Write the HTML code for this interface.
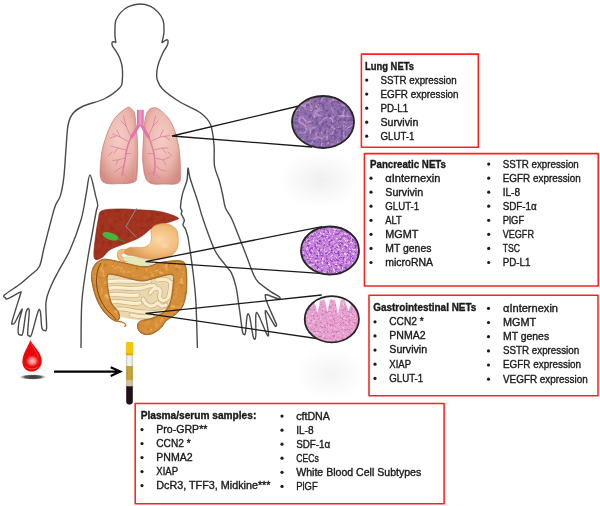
<!DOCTYPE html>
<html><head><meta charset="utf-8"><style>
html,body{margin:0;padding:0;background:#fff;}
body{width:600px;height:506px;overflow:hidden;position:relative;}
svg{position:absolute;left:0;top:0;will-change:transform;}
text{font-family:"Liberation Sans",sans-serif;font-size:10.0px;fill:#1a1a1a;stroke:#1a1a1a;stroke-width:0.35px;}
text.b{font-weight:bold;stroke-width:0.35px;}
</style></head><body>
<svg width="600" height="506" viewBox="0 0 600 506">
<defs>
 <radialGradient id="shadow" cx="50%" cy="50%" r="50%">
  <stop offset="0" stop-color="#000" stop-opacity="0.06"/>
  <stop offset="0.5" stop-color="#000" stop-opacity="0.03"/>
  <stop offset="1" stop-color="#000" stop-opacity="0"/>
 </radialGradient>
 <radialGradient id="lungG" cx="50%" cy="40%" r="65%">
  <stop offset="0" stop-color="#f4cec6"/>
  <stop offset="0.6" stop-color="#ebb6ac"/>
  <stop offset="1" stop-color="#d48c84"/>
 </radialGradient>
 <radialGradient id="stomG" cx="65%" cy="45%" r="60%">
  <stop offset="0" stop-color="#fcd8a4"/>
  <stop offset="0.6" stop-color="#f2bb7c"/>
  <stop offset="1" stop-color="#dc9a58"/>
 </radialGradient>
 <radialGradient id="dropG" cx="40%" cy="62%" r="60%">
  <stop offset="0" stop-color="#ff7a7a"/>
  <stop offset="0.35" stop-color="#f02020"/>
  <stop offset="1" stop-color="#b80000"/>
 </radialGradient>
 <radialGradient id="dropSh" cx="50%" cy="50%" r="50%">
  <stop offset="0" stop-color="#222"/>
  <stop offset="0.55" stop-color="#555"/>
  <stop offset="1" stop-color="#999" stop-opacity="0"/>
 </radialGradient>
 <filter id="nLungDark" x="0" y="0" width="100%" height="100%" color-interpolation-filters="sRGB"><feTurbulence type="fractalNoise" baseFrequency="0.32" numOctaves="2" seed="3"/><feColorMatrix type="matrix" values="0 0 0 0 0.353  0 0 0 0 0.259  0 0 0 0 0.573  5 0 0 0 -2.3"/></filter>

 <filter id="nLungLight" x="0" y="0" width="100%" height="100%" color-interpolation-filters="sRGB"><feTurbulence type="turbulence" baseFrequency="0.09" numOctaves="2" seed="9"/><feColorMatrix type="matrix" values="0 0 0 0 0.831  0 0 0 0 0.667  0 0 0 0 0.831  -6 0 0 0 0.95"/></filter>

 <filter id="nLungPink" x="0" y="0" width="100%" height="100%" color-interpolation-filters="sRGB"><feTurbulence type="fractalNoise" baseFrequency="0.35" numOctaves="2" seed="21"/><feColorMatrix type="matrix" values="0 0 0 0 0.753  0 0 0 0 0.439  0 0 0 0 0.659  5 0 0 0 -3.0"/></filter>

 <filter id="nPanDark" x="0" y="0" width="100%" height="100%" color-interpolation-filters="sRGB"><feTurbulence type="fractalNoise" baseFrequency="0.42" numOctaves="2" seed="7"/><feColorMatrix type="matrix" values="0 0 0 0 0.580  0 0 0 0 0.251  0 0 0 0 0.753  5 0 0 0 -2.45"/></filter>

 <filter id="nPanLight" x="0" y="0" width="100%" height="100%" color-interpolation-filters="sRGB"><feTurbulence type="fractalNoise" baseFrequency="0.45" numOctaves="2" seed="17"/><feColorMatrix type="matrix" values="0 0 0 0 0.949  0 0 0 0 0.839  0 0 0 0 0.949  5 0 0 0 -2.75"/></filter>

 <filter id="nGIDark" x="0" y="0" width="100%" height="100%" color-interpolation-filters="sRGB"><feTurbulence type="fractalNoise" baseFrequency="0.45" numOctaves="2" seed="11"/><feColorMatrix type="matrix" values="0 0 0 0 0.769  0 0 0 0 0.353  0 0 0 0 0.635  5 0 0 0 -2.6"/></filter>

 <filter id="nGILight" x="0" y="0" width="100%" height="100%" color-interpolation-filters="sRGB"><feTurbulence type="fractalNoise" baseFrequency="0.4" numOctaves="2" seed="13"/><feColorMatrix type="matrix" values="0 0 0 0 0.957  0 0 0 0 0.769  0 0 0 0 0.894  5 0 0 0 -2.8"/></filter>

 <filter id="nLiver" x="0" y="0" width="100%" height="100%" color-interpolation-filters="sRGB"><feTurbulence type="fractalNoise" baseFrequency="0.22" numOctaves="2" seed="5"/><feColorMatrix type="matrix" values="0 0 0 0 0.518  0 0 0 0 0.149  0 0 0 0 0.102  4 0 0 0 -2.0"/></filter>

 <filter id="nLiverL" x="0" y="0" width="100%" height="100%" color-interpolation-filters="sRGB"><feTurbulence type="fractalNoise" baseFrequency="0.25" numOctaves="2" seed="15"/><feColorMatrix type="matrix" values="0 0 0 0 0.753  0 0 0 0 0.353  0 0 0 0 0.267  4 0 0 0 -2.4"/></filter>

 <filter id="nColonL" x="0" y="0" width="100%" height="100%" color-interpolation-filters="sRGB"><feTurbulence type="fractalNoise" baseFrequency="0.2" numOctaves="2" seed="19"/><feColorMatrix type="matrix" values="0 0 0 0 0.949  0 0 0 0 0.722  0 0 0 0 0.416  4 0 0 0 -2.2"/></filter>

 <filter id="nColonD" x="0" y="0" width="100%" height="100%" color-interpolation-filters="sRGB"><feTurbulence type="fractalNoise" baseFrequency="0.25" numOctaves="2" seed="23"/><feColorMatrix type="matrix" values="0 0 0 0 0.690  0 0 0 0 0.439  0 0 0 0 0.118  4 0 0 0 -2.4"/></filter>

 <clipPath id="cLung"><ellipse cx="323" cy="122" rx="31" ry="26"/></clipPath>
 <clipPath id="cPan"><ellipse cx="330" cy="250.5" rx="29" ry="24"/></clipPath>
 <clipPath id="cGI"><ellipse cx="331.8" cy="319.3" rx="27.1" ry="23.1"/></clipPath>
 <clipPath id="cLiver"><path d="M101.9 210.7C105.6 208.9 114.5 209.1 120.6 208.9C126.7 208.8 131.9 209.4 138.4 209.8C144.9 210.2 153.1 210.3 159.7 211.6C166.3 212.9 175.8 216.1 178 217.7C180.2 219.3 176.7 219.4 172.7 221C168.7 222.6 158.9 224.7 154 227C149.1 229.3 146.2 233 143.3 235C140.4 237 140 237.4 136.7 239C133.4 240.6 127.8 242.5 123.3 244.3C118.8 246.1 113.4 247.6 110 249.7C106.6 251.8 105.2 255.2 102.8 256.9C100.4 258.5 97.2 260.2 95.7 259.6C94.2 259 93.9 257.4 93.9 253.4C93.9 249.4 95 241.2 95.7 235.6C96.4 230 97.3 223.8 98.3 219.6C99.3 215.4 98.2 212.5 101.9 210.7Z"/></clipPath>
 <clipPath id="cColon"><path d="M115 321C112.6 320.2 108 316.5 105 313C102 309.5 99.1 304.7 97 300C94.9 295.3 93.4 289.3 92.5 285C91.6 280.7 91.2 277.2 91.5 274C91.8 270.8 92.8 268.2 94 266C95.2 263.8 97 262.1 99 261C101 259.9 102 258.9 106 259.2C110 259.4 116.8 261.2 123.3 262.5C129.8 263.8 138.9 266.7 145 266.7C151.1 266.7 154.2 263.5 160 262.5C165.8 261.5 175.7 260.1 180 260.8C184.3 261.5 184.7 262.1 185.8 266.7C186.9 271.3 187.1 281.9 186.7 288.3C186.3 294.7 185.1 300.7 183.3 305C181.5 309.3 178.9 311.3 176 314C173.1 316.7 168.4 318.8 166 321C163.6 323.2 163.8 324.9 161.7 327C159.6 329.1 156.1 332.1 153.3 333.3C150.5 334.6 147.4 334.9 145 334.5C142.6 334.1 140.2 332.6 139 331C137.8 329.4 137.2 326.7 137.5 325C137.8 323.3 138.4 322 141 320.8C143.6 319.6 149 319.6 153 318C157 316.4 162 314 165 311C168 308 169.7 304.3 171 300C172.3 295.7 172.8 289.2 173 285C173.2 280.8 174.7 276.4 172.5 275C170.3 273.6 164.6 275.7 160 276.7C155.4 277.7 149.2 280.2 145 280.8C140.8 281.4 140 281 135 280C130 279 119.6 275.7 115 275C110.4 274.3 108.6 273.2 107.5 276C106.4 278.8 107.8 287.3 108.5 292C109.2 296.7 110.4 300.8 112 304C113.6 307.2 116.8 308.7 118 311C119.2 313.3 120 316.3 119.5 318C119 319.7 117.4 321.8 115 321Z"/></clipPath>
</defs>
<ellipse cx="320.5" cy="180" rx="41" ry="28" fill="url(#shadow)"/>
<ellipse cx="331" cy="374" rx="36" ry="26" fill="url(#shadow)" opacity="0.75"/>
<path d="M81 348C81.2 340 80.8 315.2 82 300C83.2 284.8 86.2 268.3 88 257C89.8 245.7 91.1 239.7 92.5 232C93.9 224.3 95.4 215.5 96.3 211C97.2 206.5 97.8 207.6 97.7 205C97.6 202.4 96.9 200.6 95.6 195.6C94.3 190.6 91.6 175.1 90 175C88.4 174.9 87.5 187.5 86 195C84.5 202.5 83.7 210.8 81 220C78.3 229.2 73.8 241.3 70 250C66.2 258.7 61.2 265.8 58 272C54.8 278.2 52.6 282 50.6 287C48.6 292 46.7 295.2 46 302C45.3 308.8 46.9 323.3 46.6 328C46.3 332.7 45 330.3 44.2 330.3C43.4 330.3 42.5 331.1 41.9 328C41.2 324.9 41 314.1 40.3 311.4C39.6 308.7 39.3 308.2 37.9 312C36.5 315.8 33.1 330.3 31.6 334.3C30.2 338.3 29.9 336.1 29.2 335.8C28.5 335.5 27.7 336.9 27.7 332.7C27.7 328.5 29.5 314.1 29.2 310.6C28.9 307.2 27.2 308.3 26.1 312C25.1 315.7 23.8 328.9 22.9 332.7C22 336.5 21.3 335 20.5 335C19.7 335 18.4 334.9 18.2 332.7C17.9 330.5 18.4 325.6 19 321.6C19.6 317.7 22.8 308.9 22.1 309C21.4 309.1 16.6 319.9 15 322.4C13.4 324.9 13.1 324 12.6 324C12.1 324 11.4 324.9 11.9 322.4C12.4 319.9 14.4 313.7 15.8 309C17.2 304.3 19.8 296.8 20.5 294C21.2 291.2 21.9 291.6 19.8 292.4C17.7 293.2 10.3 297.8 7.9 298.7C5.5 299.6 6 298.5 5.5 297.9C5 297.2 2.2 297.2 4.7 294.8C7.2 292.4 16 287.1 20.5 283.7C25 280.3 28.4 277.1 31.6 274.2C34.8 271.3 37.4 270.7 39.5 266.3C41.6 261.9 42 255.8 44 248C46 240.2 49.5 226.3 51.4 219.2C53.3 212.1 54 209.2 55.5 205.3C57 201.4 59 200.2 60.4 195.6C61.8 191 62.9 185.3 63.8 177.7C64.7 170.1 65.2 158.7 65.9 150C66.6 141.3 66.9 131.5 68 125.5C69.1 119.5 70.1 117.2 72.5 114C74.9 110.8 77.1 109.1 82.5 106.5C87.9 103.9 98.8 101.7 105 98.5C111.2 95.3 117.1 90.6 120 87.5C122.9 84.4 122 83.5 122.3 80C122.6 76.5 122.6 70.2 122.1 66.4C121.6 62.7 120.5 60.1 119.5 57.5C118.5 54.9 117 52.7 115.8 50.8C114.6 48.9 113.1 47.4 112.5 46C111.9 44.6 111.9 43 112.2 42.3C112.5 41.6 113.6 41.8 114.2 41.8C114.8 41.8 115.7 43.2 115.8 42.2C115.9 41.2 115.1 38.4 115 36C114.9 33.6 114.9 30.6 115 28C115.1 25.4 114.9 23.2 115.8 20.6C116.7 18 118.5 14.9 120.6 12.6C122.7 10.3 125.3 8 128.5 6.6C131.7 5.2 135.8 4 139.5 4C143.2 4 147.4 4.9 150.6 6.3C153.8 7.7 156.4 10.2 158.5 12.6C160.6 15 162.3 17.4 163.2 20.6C164.1 23.8 164 28.7 164 31.6C164 34.5 163.3 36.2 163 38C162.7 39.8 161.8 42 162 42.5C162.2 43 163.6 41.5 164.5 41C165.4 40.5 166.9 39.5 167.5 39.8C168.1 40 168.1 41.5 168 42.5C167.9 43.5 167.8 44.4 167 46C166.2 47.6 164.5 49.5 163.2 52.2C161.9 54.9 160.1 58.9 159 62C157.9 65.1 157.2 68 156.9 71C156.6 74 156.3 76.9 157.3 80C158.3 83.1 159.2 85.8 163 89.5C166.8 93.2 173.8 98.2 180 102C186.2 105.8 194.9 108.8 200 112.5C205.1 116.2 208.2 119.1 210.5 124.5C212.8 129.9 213.3 138.1 214 145C214.7 151.9 213.6 159.9 214.5 166C215.4 172.1 218.2 176.8 219.5 181.5C220.8 186.2 221.5 189.6 222.5 194C223.5 198.4 223.9 203.8 225.5 208C227.1 212.2 229.1 213 232 219.5C234.9 226 240.3 240.2 243 247C245.7 253.8 246.4 255.7 248 260C249.6 264.3 251 268.9 252.7 272.6C254.4 276.3 255.2 278.9 258.2 282.1C261.2 285.3 267.2 289.1 270.8 291.6C274.4 294.1 278.3 295.9 279.5 297.1C280.7 298.3 280 299.1 277.9 298.7C275.8 298.3 269 295.2 266.9 294.8C264.8 294.4 265.2 294.7 265.3 296.3C265.4 297.9 266 299.9 267.7 304.2C269.4 308.5 274.2 319 275.6 322.4C277.1 325.8 276.5 324.3 276.4 324.8C276.3 325.3 276.4 327.7 274.8 325.6C273.2 323.5 268.5 314.2 266.9 312.1C265.3 310 265.1 309.5 265.3 312.9C265.6 316.3 268.1 329.1 268.4 332.7C268.7 336.3 268.6 337.3 266.9 334.3C265.2 331.3 260 317.7 258.2 314.5C256.4 311.3 256.2 311.8 255.8 315.3C255.4 318.9 256.2 332.1 255.8 335.8C255.4 339.5 254.5 340.7 253.4 337.4C252.3 334.1 250.6 319.7 249.5 316.1C248.4 312.6 247.8 313.3 247.1 316.1C246.4 318.9 246 329.7 245.5 332.7C245 335.7 244.5 334.6 244 334.3C243.5 334 243.2 335.6 242.4 331.1C241.6 326.6 240.3 314.8 239.2 307.4C238.1 300 237.3 292.7 236 286.9C234.7 281.1 233.1 276.3 231.3 272.6C229.5 268.9 227.8 268.5 225 264.7C222.2 260.9 218.4 257.6 214.7 250C211 242.4 205.8 227.1 203 219C200.2 210.9 199.9 208 197.7 201.2C195.5 194.4 191.6 183.5 190 178C188.4 172.5 188.5 167.7 188 168C187.5 168.3 187.9 175.6 187 180C186.1 184.4 183.5 189.8 182.4 194.3C181.3 198.8 180.6 204.2 180.5 207C180.4 209.8 181.9 209.8 182 211C182.1 212.2 180.9 212.5 181.3 214C181.7 215.5 184 218.2 184.3 220C184.6 221.8 182.8 223.5 183 225C183.2 226.5 184.8 227.5 185.5 229C186.2 230.5 186.5 232.2 187 234C187.5 235.8 187.6 234.2 188.5 240C189.4 245.8 191.4 258.9 192.6 269C193.8 279.1 195 287.3 195.8 300.5C196.6 313.7 197.1 340.1 197.4 348" fill="none" stroke="#4a4a4a" stroke-width="1.4" stroke-linejoin="round"/>

<!-- lungs -->
<g>
 <path d="M127 107.8C129.8 106.3 130.2 108 131.5 109C132.8 110 133.8 111 134.5 113.5C135.2 116 135.4 119.3 135.9 123.7C136.4 128.1 137 134.8 137.3 140C137.6 145.2 137.8 148.9 137.7 155C137.6 161.1 137.4 172 136.8 176.5C136.2 181 136.6 180.7 134.1 181.9C131.6 183.1 127 183.8 121.7 183.6C116.4 183.4 105.5 185.4 102.1 181C98.7 176.6 100.5 164.5 101.2 157C101.9 149.5 104 142.5 106.3 136C108.6 129.5 111.5 122.7 115 118C118.5 113.3 124.2 109.3 127 107.8Z" fill="url(#lungG)" stroke="#c97c76" stroke-width="0.8"/>
 <path d="M153.2 107.9C155.1 107.8 156.9 107.5 160 110C163.1 112.5 168.4 117 171.5 123.1C174.6 129.2 177.1 138.3 178.6 146.3C180.1 154.3 180.4 165.1 180.4 171.2C180.4 177.3 181.2 180.6 178.6 182.7C176 184.8 170 184.1 165 184C160 183.9 152.1 185.2 148.4 181.9C144.7 178.6 143.8 171.3 143 164C142.2 156.7 143.2 145.3 143.5 138C143.8 130.7 144.2 124.6 145 120C145.8 115.4 147.1 112.5 148.5 110.5C149.9 108.5 151.3 108 153.2 107.9Z" fill="url(#lungG)" stroke="#c97c76" stroke-width="0.8"/>
 <path d="M133 112 C136 140 137 165 134 181" fill="none" stroke="#e2a29a" stroke-width="1.2" opacity="0.7"/>
 <path d="M147 112 C144 140 143 165 149 181" fill="none" stroke="#e2a29a" stroke-width="1.2" opacity="0.7"/>
 <linearGradient id="trG" x1="0" x2="1"><stop offset="0" stop-color="#d86aa6"/><stop offset="0.5" stop-color="#ec9ccb"/><stop offset="1" stop-color="#d86aa6"/></linearGradient>
 <path d="M140.35 122 C138.5 127 135 131 131.5 137 M140.35 122 C142 127 145 131 148.5 137" fill="none" stroke="#e077a8" stroke-width="3.2" stroke-linecap="round"/>
 <rect x="137" y="109.8" width="6.7" height="15" fill="url(#trG)"/>
 <path d="M131.5 137 C128.5 142 126.5 149 125.5 157 C124.5 164 123 170 121.7 176 M148.5 137 C151 142 153 149 154.5 157 C155.5 164 155 170 153.7 176" fill="none" stroke="#e47ba6" stroke-width="1.5"/>
 <g fill="none" stroke="#e27aa2" stroke-width="0.8" stroke-linecap="round">
  <path d="M130.6 136 L126 126 L123.5 116 M126 126 L121 121 M127.5 141 L120 137 L112.8 134 M120 137 L117 130 M116 136 L110 138 M126 150 L118 148 L111 146 M118 148 L114 153 M125 158 L118 160 L112.8 160.5 M118 160 L116 165 M123.5 166 L117 170 L114.6 172 M125 154 L130.6 153.4 M122.5 172 L127 178 M112 152 L108 156"/>
  <path d="M148.4 136 L153 126 L155.5 116 M153 126 L158 121 M151.5 141 L160 137 L169.7 135.6 M160 137 L163 130 M164 136 L170 140 M154 150 L162 148 L168 148 M162 148 L166 153 M155 158 L163 160 L169.7 157 M163 160 L166 165 M155.5 166 L161 170 L166 171 M154 154 L148 153.4 M154 172 L148 174 M156 174 L160 179 M168 152 L172 156"/>
 </g>
</g>

<!-- small intestine (behind colon) -->
<path d="M103 276 C118 272 145 275 160 275 C170 272 176 273 175 286 C176 301 172 313 160 318 C145 322 124 320 113 313 C104 305 101 290 103 276Z" fill="#e9d8ae"/>
<g fill="none" stroke-linecap="round">
 <g stroke="#c9a872" stroke-width="4.6">
  <path d="M106 282 C120 279 135 283 150 281"/>
  <path d="M107 288.5 C118 286 130 290 142 288 C148 287 150 284 155 286"/>
  <path d="M108 295 C120 293 128 297 138 295"/>
  <path d="M111 302 C122 300 130 305 140 303"/>
  <path d="M116 309 C126 308 134 312 145 312 C152 312 158 314 166 310"/>
  <path d="M150 293 C154 286 162 287 160 294 C158 300 164 303 168 298 C172 292 168 284 174 282"/>
  <path d="M143 299 C146 306 152 308 156 304 C160 300 158 309 166 305"/>
  <path d="M157 280 C165 278 172 280 172 288"/>
  <path d="M131 315 C138 317 146 317 152 316"/>
 </g>
 <g stroke="#f6ebcc" stroke-width="3.4">
  <path d="M106 282 C120 279 135 283 150 281"/>
  <path d="M107 288.5 C118 286 130 290 142 288 C148 287 150 284 155 286"/>
  <path d="M108 295 C120 293 128 297 138 295"/>
  <path d="M111 302 C122 300 130 305 140 303"/>
  <path d="M116 309 C126 308 134 312 145 312 C152 312 158 314 166 310"/>
  <path d="M150 293 C154 286 162 287 160 294 C158 300 164 303 168 298 C172 292 168 284 174 282"/>
  <path d="M143 299 C146 306 152 308 156 304 C160 300 158 309 166 305"/>
  <path d="M157 280 C165 278 172 280 172 288"/>
  <path d="M131 315 C138 317 146 317 152 316"/>
 </g>
 <g stroke="#fffaf0" stroke-width="0.8" opacity="0.8">
  <path d="M108 281.3 C120 278.5 135 282.3 148 280.3"/>
  <path d="M109 287.8 C118 285.5 130 289.3 141 287.3"/>
  <path d="M110 294.3 C120 292.5 128 296.3 137 294.3"/>
  <path d="M113 301.3 C122 299.5 130 304.3 139 302.3"/>
 </g>
</g>

<!-- colon -->
<g>
 <path d="M115 321C112.6 320.2 108 316.5 105 313C102 309.5 99.1 304.7 97 300C94.9 295.3 93.4 289.3 92.5 285C91.6 280.7 91.2 277.2 91.5 274C91.8 270.8 92.8 268.2 94 266C95.2 263.8 97 262.1 99 261C101 259.9 102 258.9 106 259.2C110 259.4 116.8 261.2 123.3 262.5C129.8 263.8 138.9 266.7 145 266.7C151.1 266.7 154.2 263.5 160 262.5C165.8 261.5 175.7 260.1 180 260.8C184.3 261.5 184.7 262.1 185.8 266.7C186.9 271.3 187.1 281.9 186.7 288.3C186.3 294.7 185.1 300.7 183.3 305C181.5 309.3 178.9 311.3 176 314C173.1 316.7 168.4 318.8 166 321C163.6 323.2 163.8 324.9 161.7 327C159.6 329.1 156.1 332.1 153.3 333.3C150.5 334.6 147.4 334.9 145 334.5C142.6 334.1 140.2 332.6 139 331C137.8 329.4 137.2 326.7 137.5 325C137.8 323.3 138.4 322 141 320.8C143.6 319.6 149 319.6 153 318C157 316.4 162 314 165 311C168 308 169.7 304.3 171 300C172.3 295.7 172.8 289.2 173 285C173.2 280.8 174.7 276.4 172.5 275C170.3 273.6 164.6 275.7 160 276.7C155.4 277.7 149.2 280.2 145 280.8C140.8 281.4 140 281 135 280C130 279 119.6 275.7 115 275C110.4 274.3 108.6 273.2 107.5 276C106.4 278.8 107.8 287.3 108.5 292C109.2 296.7 110.4 300.8 112 304C113.6 307.2 116.8 308.7 118 311C119.2 313.3 120 316.3 119.5 318C119 319.7 117.4 321.8 115 321Z" fill="#d68e3a" stroke="#9a5e1e" stroke-width="0.9"/>
 <g clip-path="url(#cColon)">
  <rect x="88" y="255" width="105" height="85" filter="url(#nColonL)" opacity="0.8"/>
  <rect x="88" y="255" width="105" height="85" filter="url(#nColonD)" opacity="0.5"/>
  <path d="M115 321C112.6 320.2 108 316.5 105 313C102 309.5 99.1 304.7 97 300C94.9 295.3 93.4 289.3 92.5 285C91.6 280.7 91.2 277.2 91.5 274C91.8 270.8 92.8 268.2 94 266C95.2 263.8 97 262.1 99 261C101 259.9 102 258.9 106 259.2C110 259.4 116.8 261.2 123.3 262.5C129.8 263.8 138.9 266.7 145 266.7C151.1 266.7 154.2 263.5 160 262.5C165.8 261.5 175.7 260.1 180 260.8C184.3 261.5 184.7 262.1 185.8 266.7C186.9 271.3 187.1 281.9 186.7 288.3C186.3 294.7 185.1 300.7 183.3 305C181.5 309.3 178.9 311.3 176 314C173.1 316.7 168.4 318.8 166 321C163.6 323.2 163.8 324.9 161.7 327C159.6 329.1 156.1 332.1 153.3 333.3C150.5 334.6 147.4 334.9 145 334.5C142.6 334.1 140.2 332.6 139 331C137.8 329.4 137.2 326.7 137.5 325C137.8 323.3 138.4 322 141 320.8C143.6 319.6 149 319.6 153 318C157 316.4 162 314 165 311C168 308 169.7 304.3 171 300C172.3 295.7 172.8 289.2 173 285C173.2 280.8 174.7 276.4 172.5 275C170.3 273.6 164.6 275.7 160 276.7C155.4 277.7 149.2 280.2 145 280.8C140.8 281.4 140 281 135 280C130 279 119.6 275.7 115 275C110.4 274.3 108.6 273.2 107.5 276C106.4 278.8 107.8 287.3 108.5 292C109.2 296.7 110.4 300.8 112 304C113.6 307.2 116.8 308.7 118 311C119.2 313.3 120 316.3 119.5 318C119 319.7 117.4 321.8 115 321Z" fill="none" stroke="#a86a24" stroke-width="2.2" opacity="0.6"/>
 </g>
 <path d="M101 263 C97 269 95.5 278 97 288 C98.5 298 104 308 110 313 C113 316 115 318 116 320" fill="none" stroke="#7e4814" stroke-width="1"/>
 <path d="M114 320 C117 322 121 321 124 323 C127 325 126 327 124 326" fill="none" stroke="#c0782c" stroke-width="1.3"/>
</g>

<!-- liver -->
<g>
 <path d="M101.9 210.7C105.6 208.9 114.5 209.1 120.6 208.9C126.7 208.8 131.9 209.4 138.4 209.8C144.9 210.2 153.1 210.3 159.7 211.6C166.3 212.9 175.8 216.1 178 217.7C180.2 219.3 176.7 219.4 172.7 221C168.7 222.6 158.9 224.7 154 227C149.1 229.3 146.2 233 143.3 235C140.4 237 140 237.4 136.7 239C133.4 240.6 127.8 242.5 123.3 244.3C118.8 246.1 113.4 247.6 110 249.7C106.6 251.8 105.2 255.2 102.8 256.9C100.4 258.5 97.2 260.2 95.7 259.6C94.2 259 93.9 257.4 93.9 253.4C93.9 249.4 95 241.2 95.7 235.6C96.4 230 97.3 223.8 98.3 219.6C99.3 215.4 98.2 212.5 101.9 210.7Z" fill="#a4341f" stroke="#86220f" stroke-width="0.6"/>
 <g clip-path="url(#cLiver)">
  <rect x="90" y="205" width="95" height="60" filter="url(#nLiver)" opacity="0.45"/>
  <rect x="90" y="205" width="95" height="60" filter="url(#nLiverL)" opacity="0.35"/>
 </g>
 <path d="M136.6 208 L125.9 226.7 L136.6 237.4" fill="none" stroke="#8896a8" stroke-width="0.9"/>
 <ellipse cx="110.5" cy="236.3" rx="8.5" ry="3.6" transform="rotate(18 110.5 236.3)" fill="#48b440"/>
 <path d="M117 239 L125 241.5" stroke="#3c8c34" stroke-width="1.3"/>
</g>

<!-- stomach -->
<path d="M127 251.5 C122.5 250 119 252 119.2 255.5 C119.5 258.5 123 260.2 128.5 260" fill="none" stroke="#d89858" stroke-width="4.6"/>
<path d="M127 251.5 C122.5 250 119 252 119.2 255.5 C119.5 258.5 123 260.2 128.5 260" fill="none" stroke="#f2bc7e" stroke-width="3.2"/>
<path d="M166 223.7C169.2 224.2 173 226.1 175 228C177 229.9 177.6 231.6 178 235C178.4 238.4 178.6 244.8 177.3 248.3C176 251.9 173.4 254.4 170 256.3C166.6 258.2 161.1 259.4 156.7 259.7C152.2 260 147.1 258.9 143.3 258.3C139.5 257.7 136.7 256.6 134 256C131.3 255.4 128.6 255.5 127 255C125.4 254.5 124.7 253.9 124.5 253C124.3 252.1 124.9 250.4 126 249.5C127.1 248.6 129.3 247.6 131.3 247.3C133.3 247 135.8 247.6 138 247.5C140.2 247.4 142.7 247.6 144.7 247C146.7 246.4 148.9 245.2 150 243.7C151.1 242.1 151.1 240 151.3 237.7C151.5 235.4 150.5 231.8 151.3 229.7C152.1 227.6 153.6 226 156 225C158.4 224 162.8 223.2 166 223.7Z" fill="url(#stomG)" stroke="#d4944e" stroke-width="0.6"/>
<ellipse cx="165" cy="246" rx="4" ry="2.5" fill="#fff" opacity="0.18"/>
<!-- pancreas -->
<path d="M124 257 C130 256 140 258 147 260 C152 260 155 261 152 264 C146 267 136 266 128 262 C124 261 122 259 124 257Z" fill="#e6e9b6" stroke="#c8cc90" stroke-width="0.4"/>

<g stroke="#1a1a1a" stroke-width="1.3" fill="none">
 <path d="M172 136 L301 105.5 M172 136 L312 147"/>
 <path d="M145.5 261.7 L322 226.6 M145.5 261.7 L320 273.3"/>
 <path d="M145.5 313.3 L321.7 295 M145.5 313.3 L326.7 340"/>
</g>

<g>
 <ellipse cx="323" cy="122" rx="31" ry="26" fill="#9070ac"/>
 <g clip-path="url(#cLung)">
  <rect x="290" y="94" width="66" height="56" filter="url(#nLungDark)" opacity="0.55"/>
  <rect x="290" y="94" width="66" height="56" filter="url(#nLungPink)" opacity="0.7"/>
  <rect x="290" y="94" width="66" height="56" filter="url(#nLungLight)" opacity="0.85"/>
 </g>
 <ellipse cx="323" cy="122" rx="31" ry="26" fill="none" stroke="#262626" stroke-width="1.8"/>

 <ellipse cx="330" cy="250.5" rx="29" ry="24" fill="#c886da"/>
 <g clip-path="url(#cPan)">
  <rect x="300" y="226" width="60" height="50" filter="url(#nPanDark)"/>
  <rect x="300" y="226" width="60" height="50" filter="url(#nPanLight)"/>
 </g>
 <ellipse cx="330" cy="250.5" rx="29" ry="24" fill="none" stroke="#262626" stroke-width="1.8"/>

 <ellipse cx="331.8" cy="319.3" rx="27.1" ry="23.1" fill="#e6a2d0"/>
 <g clip-path="url(#cGI)">
  <rect x="303" y="294" width="58" height="50" filter="url(#nGIDark)" opacity="0.6"/>
  <rect x="303" y="294" width="58" height="50" filter="url(#nGILight)"/>
  <g fill="#fff" opacity="0.92">
   <path d="M303 294 H361 V299 C356 298 352 300 348 299 C343 300 339 299 334 300 C328 299 322 300 317 301 C312 301 308 301 303 301Z"/>
   <path d="M313.5 299 C315 304 316.5 309 317.6 313 C318.6 309 319.5 304 320 299Z"/>
   <path d="M324 297 C325.5 302 326.5 308 327.4 312.5 C328.5 308 329.5 302 330.5 297Z"/>
   <path d="M334.5 299 C336 304 337 310 338 315 C339 310 340 304 341 299Z"/>
   <path d="M344 299 C345.5 303 347 307 348.5 311 C350 307 351.5 303 352 300Z"/>
  </g>
 </g>
 <ellipse cx="331.8" cy="319.3" rx="27.1" ry="23.1" fill="none" stroke="#262626" stroke-width="1.8"/>
</g>


<!-- blood drop -->
<radialGradient id="dropSh2" cx="50%" cy="50%" r="50%"><stop offset="0" stop-color="#3a3a3a"/><stop offset="0.6" stop-color="#555"/><stop offset="1" stop-color="#888" stop-opacity="0"/></radialGradient>
<radialGradient id="dropHi" cx="50%" cy="55%" r="50%"><stop offset="0" stop-color="#ffc4c4"/><stop offset="0.5" stop-color="#ff7a7a"/><stop offset="1" stop-color="#ff3030" stop-opacity="0"/></radialGradient>
<ellipse cx="32.8" cy="377" rx="13.5" ry="2.8" fill="url(#dropSh2)"/>
<path d="M30.3 340 C33 346 41.7 352 41.7 361 C41.7 367 37 371.6 31.8 371.6 C26 371.6 22.4 367 22.4 361.7 C22.4 354 28 347 30.3 340Z" fill="#e80808"/>
<path d="M30.3 341 C32 347 37 351 38.5 358" fill="none" stroke="#ff4a4a" stroke-width="1.2" opacity="0.5"/>
<ellipse cx="32.3" cy="360.5" rx="7" ry="6.2" fill="url(#dropHi)"/>
<path d="M25.5 366.3 C28 369.8 35.5 369.8 38.5 366.3" fill="none" stroke="#ff8a8a" stroke-width="0.9" opacity="0.55"/>
<!-- arrow -->
<path d="M54 371.6 L119.5 371.6 M110.7 367.2 L120.3 371.6 L110.7 376" fill="none" stroke="#000" stroke-width="2.2"/>

<!-- test tube -->
<linearGradient id="tubeG" x1="0" x2="1" y1="0" y2="0"><stop offset="0" stop-color="#000" stop-opacity="0.1"/><stop offset="0.45" stop-color="#fff" stop-opacity="0.06"/><stop offset="1" stop-color="#000" stop-opacity="0.12"/></linearGradient>
<rect x="126.3" y="354" width="6.4" height="50.5" rx="3.2" fill="#f2f2ee" stroke="#c0c0b8" stroke-width="0.5"/>
<rect x="126.3" y="366" width="6.4" height="14.6" fill="#c9a02a"/>
<rect x="126.3" y="380.6" width="6.4" height="5.6" fill="#d6c0a0"/>
<path d="M126.3 386.2 H132.7 V401.2 A3.2 3.2 0 0 1 126.3 401.2 Z" fill="#14050c"/>
<rect x="126.3" y="354" width="6.4" height="50.5" rx="3.2" fill="url(#tubeG)"/>
<rect x="125.9" y="341.9" width="7.4" height="13.4" rx="1" fill="#f2c60e"/>
<rect x="125.9" y="353.5" width="7.4" height="1.8" fill="#c89a00" opacity="0.6"/>

<g fill="none" stroke="#ff2020" stroke-width="1.55" stroke-linejoin="round">
 <rect x="361.4" y="54.1" width="116.9" height="93.2"/>
 <rect x="364.4" y="153.6" width="233.8" height="132.4"/>
 <rect x="369" y="295.3" width="229" height="100.4"/>
 <rect x="135.2" y="403.5" width="308.9" height="100.2"/>
</g>

<g fill="#1c1c1c">
<text class="b" x="365.1" y="69.5" textLength="48.8" lengthAdjust="spacingAndGlyphs">Lung NETs</text>
<circle cx="366.7" cy="80.1" r="1.6"/><text x="380.5" y="83.5" textLength="76.1" lengthAdjust="spacingAndGlyphs">SSTR expression</text>
<circle cx="366.7" cy="94.1" r="1.6"/><text x="380.5" y="97.5" textLength="78.1" lengthAdjust="spacingAndGlyphs">EGFR expression</text>
<circle cx="366.7" cy="108.2" r="1.6"/><text x="380.5" y="111.6" textLength="27.7" lengthAdjust="spacingAndGlyphs">PD-L1</text>
<circle cx="366.7" cy="122.2" r="1.6"/><text x="380.5" y="125.6" textLength="37.8" lengthAdjust="spacingAndGlyphs">Survivin</text>
<circle cx="366.7" cy="136.2" r="1.6"/><text x="380.5" y="139.6" textLength="33.9" lengthAdjust="spacingAndGlyphs">GLUT-1</text>

<text class="b" x="370" y="167.5" textLength="76.0" lengthAdjust="spacingAndGlyphs">Pancreatic NETs</text>
<circle cx="371" cy="178.2" r="1.6"/><text x="385.3" y="181.6" textLength="55.0" lengthAdjust="spacingAndGlyphs">&#945;Internexin</text>
<circle cx="371" cy="192.2" r="1.6"/><text x="385.3" y="195.6" textLength="37.8" lengthAdjust="spacingAndGlyphs">Survivin</text>
<circle cx="371" cy="206.2" r="1.6"/><text x="385.3" y="209.7" textLength="33.9" lengthAdjust="spacingAndGlyphs">GLUT-1</text>
<circle cx="371" cy="220.3" r="1.6"/><text x="385.3" y="223.7" textLength="16.5" lengthAdjust="spacingAndGlyphs">ALT</text>
<circle cx="371" cy="234.3" r="1.6"/><text x="385.3" y="237.8" textLength="33.1" lengthAdjust="spacingAndGlyphs">MGMT</text>
<circle cx="371" cy="248.4" r="1.6"/><text x="385.3" y="251.8" textLength="46.1" lengthAdjust="spacingAndGlyphs">MT genes</text>
<circle cx="371" cy="262.5" r="1.6"/><text x="385.3" y="265.9" textLength="47.7" lengthAdjust="spacingAndGlyphs">microRNA</text>

<circle cx="488.7" cy="164.1" r="1.6"/><text x="502.7" y="167.5" textLength="76.1" lengthAdjust="spacingAndGlyphs">SSTR expression</text>
<circle cx="488.7" cy="178.2" r="1.6"/><text x="502.7" y="181.6" textLength="78.1" lengthAdjust="spacingAndGlyphs">EGFR expression</text>
<circle cx="488.7" cy="192.2" r="1.6"/><text x="502.7" y="195.6" textLength="17.4" lengthAdjust="spacingAndGlyphs">IL-8</text>
<circle cx="488.7" cy="206.2" r="1.6"/><text x="502.7" y="209.7" textLength="34.1" lengthAdjust="spacingAndGlyphs">SDF-1&#945;</text>
<circle cx="488.7" cy="220.3" r="1.6"/><text x="502.7" y="223.7" textLength="21.5" lengthAdjust="spacingAndGlyphs">PlGF</text>
<circle cx="488.7" cy="234.3" r="1.6"/><text x="502.7" y="237.8" textLength="31.3" lengthAdjust="spacingAndGlyphs">VEGFR</text>
<circle cx="488.7" cy="248.4" r="1.6"/><text x="502.7" y="251.8" textLength="17.3" lengthAdjust="spacingAndGlyphs">TSC</text>
<circle cx="488.7" cy="262.5" r="1.6"/><text x="502.7" y="265.9" textLength="27.7" lengthAdjust="spacingAndGlyphs">PD-L1</text>

<text class="b" x="373.3" y="311.0" textLength="103.0" lengthAdjust="spacingAndGlyphs">Gastrointestinal NETs</text>
<circle cx="375" cy="321.8" r="1.6"/><text x="389.3" y="325.1" textLength="34.4" lengthAdjust="spacingAndGlyphs">CCN2 *</text>
<circle cx="375" cy="335.9" r="1.6"/><text x="389.3" y="339.3" textLength="36.3" lengthAdjust="spacingAndGlyphs">PNMA2</text>
<circle cx="375" cy="350.1" r="1.6"/><text x="389.3" y="353.4" textLength="37.8" lengthAdjust="spacingAndGlyphs">Survivin</text>
<circle cx="375" cy="364.2" r="1.6"/><text x="389.3" y="367.6" textLength="21.8" lengthAdjust="spacingAndGlyphs">XIAP</text>
<circle cx="375" cy="378.4" r="1.6"/><text x="389.3" y="381.8" textLength="33.9" lengthAdjust="spacingAndGlyphs">GLUT-1</text>

<circle cx="488.5" cy="308.4" r="1.6"/><text x="503" y="311.8" textLength="55.0" lengthAdjust="spacingAndGlyphs">&#945;Internexin</text>
<circle cx="488.5" cy="322.6" r="1.6"/><text x="503" y="325.9" textLength="33.1" lengthAdjust="spacingAndGlyphs">MGMT</text>
<circle cx="488.5" cy="336.7" r="1.6"/><text x="503" y="340.1" textLength="46.1" lengthAdjust="spacingAndGlyphs">MT genes</text>
<circle cx="488.5" cy="350.9" r="1.6"/><text x="503" y="354.2" textLength="76.1" lengthAdjust="spacingAndGlyphs">SSTR expression</text>
<circle cx="488.5" cy="365.0" r="1.6"/><text x="503" y="368.4" textLength="78.1" lengthAdjust="spacingAndGlyphs">EGFR expression</text>
<circle cx="488.5" cy="379.2" r="1.6"/><text x="503" y="382.6" textLength="84.7" lengthAdjust="spacingAndGlyphs">VEGFR expression</text>

<text class="b" x="140.7" y="419.0" textLength="115.6" lengthAdjust="spacingAndGlyphs">Plasma/serum samples:</text>
<circle cx="142" cy="429.6" r="1.6"/><text x="156.3" y="433.0" textLength="51.1" lengthAdjust="spacingAndGlyphs">Pro-GRP**</text>
<circle cx="142" cy="443.6" r="1.6"/><text x="156.3" y="447.0" textLength="34.4" lengthAdjust="spacingAndGlyphs">CCN2 *</text>
<circle cx="142" cy="457.6" r="1.6"/><text x="156.3" y="461.0" textLength="36.3" lengthAdjust="spacingAndGlyphs">PNMA2</text>
<circle cx="142" cy="471.6" r="1.6"/><text x="156.3" y="475.0" textLength="21.8" lengthAdjust="spacingAndGlyphs">XIAP</text>
<circle cx="142" cy="485.6" r="1.6"/><text x="156.3" y="489.0" textLength="114.2" lengthAdjust="spacingAndGlyphs">DcR3, TFF3, Midkine***</text>

<circle cx="282" cy="416.1" r="1.6"/><text x="296.2" y="419.5" textLength="33.7" lengthAdjust="spacingAndGlyphs">cftDNA</text>
<circle cx="282" cy="430.2" r="1.6"/><text x="296.2" y="433.6" textLength="17.4" lengthAdjust="spacingAndGlyphs">IL-8</text>
<circle cx="282" cy="444.2" r="1.6"/><text x="296.2" y="447.6" textLength="34.1" lengthAdjust="spacingAndGlyphs">SDF-1&#945;</text>
<circle cx="282" cy="458.2" r="1.6"/><text x="296.2" y="461.6" textLength="22.6" lengthAdjust="spacingAndGlyphs">CECs</text>
<circle cx="282" cy="472.3" r="1.6"/><text x="296.2" y="475.7" textLength="125.1" lengthAdjust="spacingAndGlyphs">White Blood Cell Subtypes</text>
<circle cx="282" cy="486.4" r="1.6"/><text x="296.2" y="489.8" textLength="21.5" lengthAdjust="spacingAndGlyphs">PlGF</text>

</g>

</svg>
</body></html>
